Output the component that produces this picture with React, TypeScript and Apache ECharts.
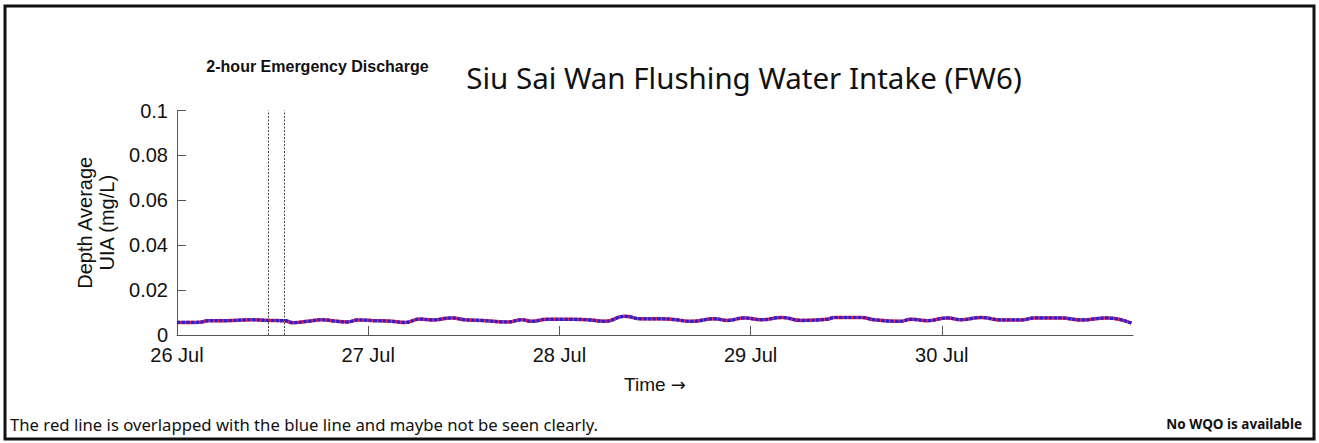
import React, { useEffect, useRef } from "react";
import * as echarts from "echarts";

// hours since 26 Jul 00:00
const hours = [0, 2.3, 3.1, 3.9, 6.0, 9.4, 11.4, 13.5, 14.5, 16.4, 18.2, 19.8, 21.4, 22.7, 24.8, 27.0, 28.6, 30.5,
  32.0, 34.5, 36.1, 38.2, 41.5, 43.3, 44.5, 46.5, 49.5, 51.5, 53.7, 56.2, 58.3, 60.6,
  62.1, 64.6, 67.5, 69.1, 71.2, 73.4, 75.9, 78.4, 81.6, 82.5, 85.9, 87.5, 90.7,
  92.2, 94.2, 96.7, 98.4, 100.9, 103.5, 106.0, 107.6, 111.0, 113.5, 116.7, 119.8];
const blueValues = [0.0056, 0.0056, 0.0058, 0.0064, 0.0064, 0.0068, 0.0065, 0.0064, 0.0055, 0.0061, 0.0068, 0.0062, 0.0058, 0.0067, 0.0064, 0.0061, 0.0056, 0.0071,
  0.0067, 0.0076, 0.0068, 0.0065, 0.0058, 0.0068, 0.0061, 0.0070, 0.0070, 0.0068, 0.0061, 0.0083, 0.0072, 0.0072,
  0.0070, 0.0061, 0.0072, 0.0065, 0.0076, 0.0068, 0.0078, 0.0065, 0.0070, 0.0078, 0.0078, 0.0068, 0.0061,
  0.0070, 0.0064, 0.0076, 0.0068, 0.0078, 0.0067, 0.0067, 0.0076, 0.0076, 0.0067, 0.0076, 0.0053];
const redValues = blueValues.slice();

const dayTicks = [0, 24, 48, 72, 96];
const dayLabels = ["26 Jul", "27 Jul", "28 Jul", "29 Jul", "30 Jul"];
const yTicks = [0, 0.02, 0.04, 0.06, 0.08, 0.1];
const dischargeWindow = [11.4, 13.4];

const FONT = "'Liberation Sans', Arial, sans-serif";
const TITLE_FONT = "'Noto Sans', 'Liberation Sans', sans-serif";

export default function App() {
  const ref = useRef<HTMLDivElement>(null);
  useEffect(() => {
    if (!ref.current) return;
    const chart = echarts.init(ref.current, undefined, { renderer: "svg" });
    const blue = hours.map((h, i) => [h, blueValues[i]]);
    const red = hours.map((h, i) => [h, redValues[i]]);
    chart.setOption({
      animation: false,
      backgroundColor: "#fff",
      grid: { left: 177, top: 110.5, right: 186, bottom: 108, containLabel: false },
      xAxis: {
        type: "value",
        min: 0,
        max: 120,
        name: "Time {arr|\u2192}",
        nameLocation: "middle",
        nameGap: 40,
        nameTextStyle: {
          fontFamily: FONT,
          fontSize: 19,
          color: "#111",
          rich: { arr: { fontFamily: "'DejaVu Sans', sans-serif", fontSize: 18, color: "#111" } },
        },
        axisLine: { show: true, lineStyle: { color: "#555", width: 1 } },
        axisTick: { show: true, inside: true, length: 9, customValues: dayTicks, lineStyle: { color: "#555" } },
        axisLabel: {
          customValues: dayTicks,
          margin: 11,
          fontFamily: FONT,
          fontSize: 20,
          lineHeight: 18,
          color: "#111",
          formatter: (v: number) => {
            const i = dayTicks.indexOf(Math.round(v));
            return i >= 0 ? dayLabels[i] : "";
          },
        },
        splitLine: { show: false },
      },
      yAxis: {
        type: "value",
        min: 0,
        max: 0.1,
        interval: 0.02,
        name: "Depth Average\nUIA (mg/L)",
        nameLocation: "middle",
        nameRotate: 90,
        nameGap: 57,
        nameTextStyle: { fontFamily: FONT, fontSize: 20, lineHeight: 22, color: "#111" },
        axisLine: { show: true, lineStyle: { color: "#555", width: 1 } },
        axisTick: { show: true, inside: true, length: 9, lineStyle: { color: "#555" } },
        axisLabel: {
          margin: 9,
          fontFamily: FONT,
          fontSize: 20,
          lineHeight: 16,
          color: "#111",
          formatter: (v: number) => {
            const r = Math.round(v * 100) / 100;
            const i = yTicks.findIndex((t) => Math.abs(t - r) < 1e-9);
            return i >= 0 ? String(yTicks[i]) : "";
          },
        },
        splitLine: { show: false },
      },
      series: [
        {
          type: "line",
          name: "red",
          data: red,
          smooth: 0.5,
          showSymbol: false,
          lineStyle: { color: "#ee2a55", width: 3.5 },
          z: 2,
          markLine: {
            silent: true,
            symbol: ["none", "none"],
            label: { show: false },
            lineStyle: { color: "#444", type: [2, 1.5], width: 1 },
            data: dischargeWindow.map((x) => ({ xAxis: x })),
          },
        },
        {
          type: "line",
          name: "blue",
          data: blue,
          smooth: 0.5,
          showSymbol: false,
          lineStyle: { color: "#2f1fcc", width: 3.2, type: [3.5, 1.2] },
          z: 3,
        },
      ],
      graphic: [
        {
          type: "rect",
          shape: { x: 5, y: 6, width: 1309, height: 433 },
          style: { fill: "none", stroke: "#111", lineWidth: 3 },
          silent: true,
        },
        {
          type: "text",
          x: 317.5,
          y: 66,
          style: { text: "2-hour Emergency Discharge", fontFamily: FONT, fontWeight: "bold", fontSize: 16, fill: "#111", textAlign: "center", textVerticalAlign: "middle" },
        },
        {
          type: "text",
          x: 744,
          y: 77,
          style: { text: "Siu Sai Wan Flushing Water Intake (FW6)", fontFamily: TITLE_FONT, fontSize: 29.5, fill: "#111", textAlign: "center", textVerticalAlign: "middle" },
        },
        {
          type: "text",
          x: 10,
          y: 424,
          style: { text: "The red line is overlapped with the blue line and maybe not be seen clearly.", fontFamily: TITLE_FONT, fontSize: 16.7, fill: "#111", textAlign: "left", textVerticalAlign: "middle" },
        },
        {
          type: "text",
          x: 1302,
          y: 424,
          style: { text: "No WQO is available", fontFamily: TITLE_FONT, fontWeight: "bold", fontSize: 13.5, fill: "#111", textAlign: "right", textVerticalAlign: "middle" },
        },
      ],
    });
    return () => chart.dispose();
  }, []);
  return <div ref={ref} style={{ position: "absolute", left: 0, top: 0, width: 1319, height: 443 }} />;
}
